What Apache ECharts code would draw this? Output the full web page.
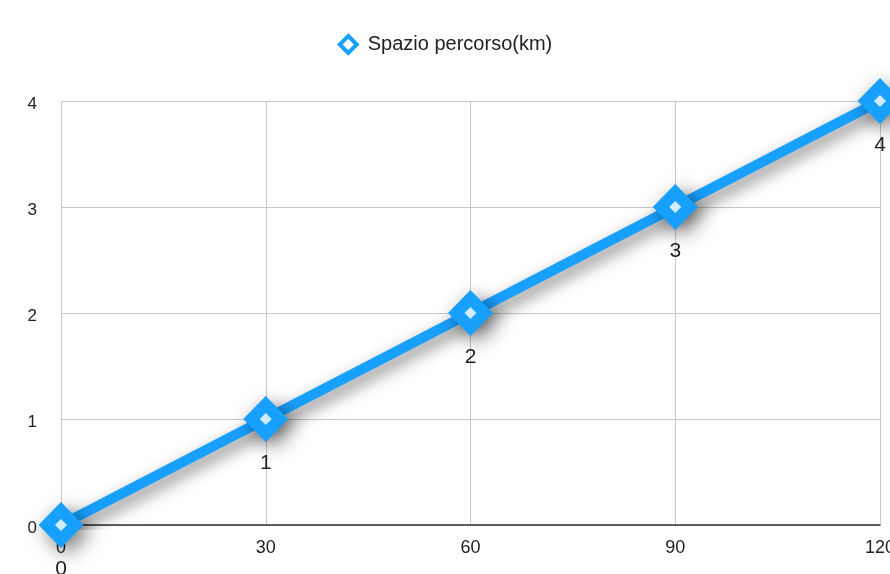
<!DOCTYPE html>
<html>
<head>
<meta charset="utf-8">
<style>
  html, body { margin: 0; padding: 0; background: #fff; }
  #chart { width: 890px; height: 574px; }
</style>
<script src="https://cdn.jsdelivr.net/npm/echarts@6/dist/echarts.min.js"></script>
</head>
<body>
<div id="chart"></div>
<script>
// Tempo (x) and distance travelled (y)
const times = [0, 30, 60, 90, 120];
const distances = [0, 1, 2, 3, 4];
const seriesName = 'Spazio percorso(km)';
const xTicks = [0, 30, 60, 90, 120];
const yTicks = [0, 1, 2, 3, 4];

const blue = '#18a0ff';
const font = '"Liberation Sans", Arial, Helvetica, sans-serif';
const points = times.map((t, i) => [t, distances[i]]);

const chart = echarts.init(document.getElementById('chart'));
chart.setOption({
  animation: false,
  legend: {
    top: 29,
    left: 'center',
    itemWidth: 17,
    itemHeight: 17,
    itemGap: 10,
    textStyle: { fontSize: 20, color: '#222', fontFamily: font, padding: [0, 0, 0, 6] },
    data: [{
      name: seriesName,
      icon: 'diamond',
      itemStyle: { color: '#fff', borderColor: blue, borderWidth: 4 }
    }]
  },
  grid: { left: 61, right: 10, top: 101, bottom: 49, containLabel: false, outerBoundsMode: 'none' },
  xAxis: {
    type: 'value',
    min: xTicks[0],
    max: xTicks[xTicks.length - 1],
    interval: 30,
    axisLine: { show: true, lineStyle: { color: '#333', width: 1.5 } },
    axisTick: { show: false },
    axisLabel: { fontSize: 18, color: '#222', fontFamily: font, margin: 14 },
    splitLine: { show: true, lineStyle: { color: '#c8c8c8', width: 1 } }
  },
  yAxis: {
    type: 'value',
    min: yTicks[0],
    max: yTicks[yTicks.length - 1],
    interval: 1,
    axisLine: { show: false },
    axisTick: { show: false },
    axisLabel: {
      color: '#222',
      margin: 24,
      formatter: v => '{t|' + v + '}',
      rich: { t: { fontSize: 17, color: '#222', fontFamily: font, padding: [6, 0, 0, 0] } }
    },
    splitLine: { show: true, lineStyle: { color: '#c8c8c8', width: 1 } }
  },
  series: [{
    name: seriesName,
    type: 'line',
    data: points,
    symbol: 'diamond',
    symbolSize: [45, 46],
    itemStyle: {
      color: blue,
      shadowColor: 'rgba(0,0,0,0.55)',
      shadowBlur: 20,
      shadowOffsetX: 6,
      shadowOffsetY: 6
    },
    lineStyle: {
      color: blue,
      width: 10,
      shadowColor: 'rgba(0,0,0,0.5)',
      shadowBlur: 16,
      shadowOffsetX: 5,
      shadowOffsetY: 6
    },
    label: {
      show: true,
      position: 'bottom',
      distance: 11,
      fontSize: 21,
      color: '#222',
      fontFamily: font,
      formatter: p => p.value[1]
    },
    z: 3
  }, {
    // white centre of each diamond marker
    name: seriesName,
    type: 'scatter',
    data: points,
    symbol: 'diamond',
    symbolSize: 12,
    itemStyle: { color: '#fff' },
    silent: true,
    z: 4
  }]
});
</script>
</body>
</html>
